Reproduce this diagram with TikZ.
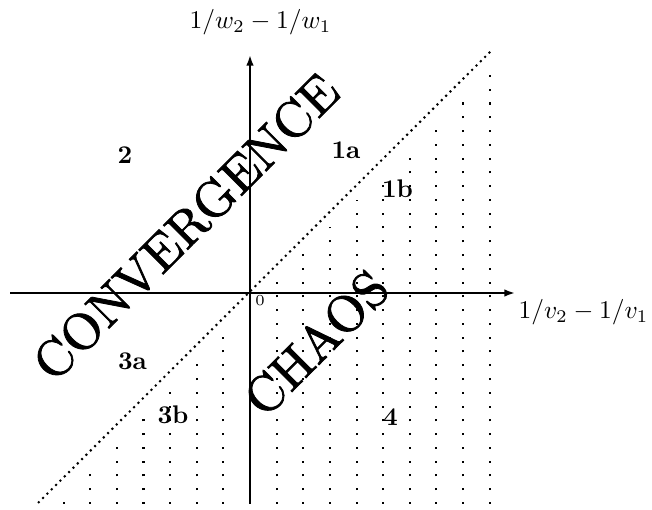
\documentclass[tikz,border=0pt]{standalone}
\usepackage{fontspec}
\newfontfamily\heavyfont[FakeBold=1.6]{Latin Modern Roman}
\usetikzlibrary{arrows.meta}
\begin{document}
\begin{tikzpicture}[x=0.392pt,y=-0.392pt,
  axis/.style={line width=0.8pt,-{Latex[length=4.2pt,width=3pt]}},
  diag/.style={line width=0.8pt,dash pattern=on 0.8pt off 1.6pt},
  hatch/.style={line width=0.8pt,dash pattern=on 0.8pt off 4.6pt},
  region/.style={font=\bfseries,inner sep=0pt},
  big/.style={rotate=45,inner sep=0pt,font=\heavyfont},
  axlabel/.style={inner sep=0pt}]
\useasboundingbox (0,0) rectangle (652,510);
\coordinate (O) at (250,293);
\coordinate (xs) at (10,293);
\coordinate (xe) at (515,293);
\coordinate (ys) at (250,503);
\coordinate (ye) at (250,55);
\coordinate (ds) at (38,503);
\coordinate (de) at (492,50);
\foreach \i in {1,...,17} {
  \pgfmathsetmacro\xx{250+26.63*(\i-8)}
  \draw[hatch] (\xx,504) -- (\xx,{557-\xx});
}
\draw[diag] (ds) -- (de);
\draw[axis] (xs) -- (xe);
\draw[axis] (ys) -- (ye);
\node[axlabel,anchor=base] (ylab) at (260.5,28.3) {$1/w_2-1/w_1$};
\node[axlabel,anchor=base west] (xlab) at (518,319) {$1/v_2-1/v_1$};
\node[inner sep=0pt,font=\fontsize{6}{7}\selectfont] (zero) at (260,300.5) {0};
\node[region] (r2) at (125,155.5) {2};
\node[region] (r1a) at (346,150.5) {1a};
\node[region] (r1b) at (397.5,188.5) {1b};
\node[region] (r3a) at (132.5,361.5) {3a};
\node[region] (r3b) at (173,415) {3b};
\node[region] (r4) at (390.5,417) {4};
\node[big] (conv) at (186,227) {\scalebox{2.0}{CONVERGENCE}};
\node[big] (chaos) at (316,343) {\scalebox{2.0}{CHAOS}};
\end{tikzpicture}
\end{document}
